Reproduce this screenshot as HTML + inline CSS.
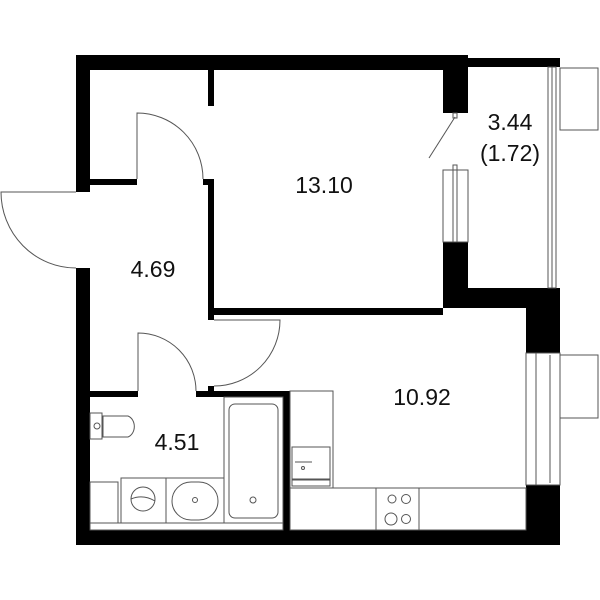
<!DOCTYPE html>
<html><head><style>html,body{margin:0;padding:0;background:#fff}svg{display:block}text{font-family:"Liberation Sans",sans-serif;font-size:23px;fill:#111;text-anchor:middle}</style></head>
<body>
<svg width="600" height="600" viewBox="0 0 600 600" xmlns="http://www.w3.org/2000/svg">
<g fill="#000">
<!-- outer walls -->
<rect x="76" y="55" width="392" height="15"/>
<rect x="468" y="58" width="92" height="9"/>
<rect x="76" y="55" width="14" height="137"/>
<rect x="76" y="268" width="14" height="277"/>
<rect x="76" y="530" width="484" height="15"/>
<rect x="526" y="485" width="34" height="60"/>
<rect x="443" y="288" width="117" height="20"/>
<rect x="526" y="288" width="34" height="65"/>
<rect x="443" y="70" width="25" height="43"/>
<rect x="443" y="242" width="25" height="66"/>
<!-- inner walls -->
<rect x="208" y="70" width="6" height="36"/>
<rect x="90" y="179" width="47" height="6"/>
<rect x="203" y="179" width="11" height="6"/>
<rect x="208" y="179" width="6" height="141"/>
<rect x="208" y="308" width="235" height="7"/>
<rect x="208" y="386" width="6" height="8"/>
<rect x="90" y="391" width="48" height="6"/>
<rect x="196" y="391" width="94" height="6"/>
<rect x="283" y="391" width="7" height="139"/>
</g>
<g fill="none" stroke="#555" stroke-width="1">
<!-- doors -->
<path d="M137 179 V113 A66 66 0 0 1 203 179"/>
<path d="M76 192 H1 A75 76 0 0 0 76 268"/>
<path d="M214 320 H280 A66 66 0 0 1 214 386"/>
<path d="M138 391 V333 A58 58 0 0 1 196 391"/>
<line x1="455" y1="117" x2="429" y2="158"/>
<rect x="453" y="113" width="4" height="5"/>
<!-- balcony window -->
<rect x="443" y="170" width="25" height="72"/>
<rect x="453" y="165" width="4" height="77"/>
<rect x="548" y="67" width="8" height="221"/>
<line x1="552" y1="67" x2="552" y2="288"/>
<rect x="560" y="68" width="38" height="62"/>
<!-- kitchen window -->
<rect x="526" y="353" width="34" height="132"/>
<line x1="536" y1="353" x2="536" y2="485"/>
<line x1="550" y1="355" x2="550" y2="483"/>
<rect x="560" y="355" width="38" height="63"/>
<!-- kitchen -->
<rect x="290" y="488" width="236" height="42"/>
<rect x="376" y="488" width="43" height="42"/>
<circle cx="392" cy="499" r="4"/><circle cx="406" cy="499" r="4.5"/>
<circle cx="391" cy="519" r="6"/><circle cx="406" cy="519" r="4.5"/>
<rect x="290" y="391" width="43" height="97"/>
<rect x="292" y="447" width="38" height="33"/>
<line x1="295" y1="462" x2="312" y2="462"/>
<circle cx="303" cy="468" r="1.5"/>
<rect x="292" y="479" width="38" height="7"/>
<!-- bathroom -->
<rect x="90" y="523" width="193" height="7"/>
<rect x="90" y="413" width="12" height="26"/>
<circle cx="97" cy="426" r="3"/>
<path d="M103 416 H128 A9 11 0 0 1 128 437 H103 Z"/>
<rect x="90" y="482" width="28" height="41"/>
<rect x="121" y="478" width="45" height="45"/>
<circle cx="143" cy="499" r="12"/>
<path d="M131 499 Q143 494 155 501"/>
<rect x="166" y="478" width="58" height="45"/>
<rect x="172" y="482" width="46" height="38" rx="19"/>
<circle cx="195" cy="500" r="2.5"/>
<rect x="224" y="397" width="59" height="126"/>
<rect x="229" y="404" width="49" height="114" rx="6"/>
<circle cx="253" cy="500" r="3"/>
</g>
<text x="153" y="277">4.69</text>
<text x="324" y="193">13.10</text>
<text x="510" y="130">3.44</text>
<text x="510" y="161">(1.72)</text>
<text x="177" y="450">4.51</text>
<text x="422" y="405">10.92</text>
</svg>
</body></html>
